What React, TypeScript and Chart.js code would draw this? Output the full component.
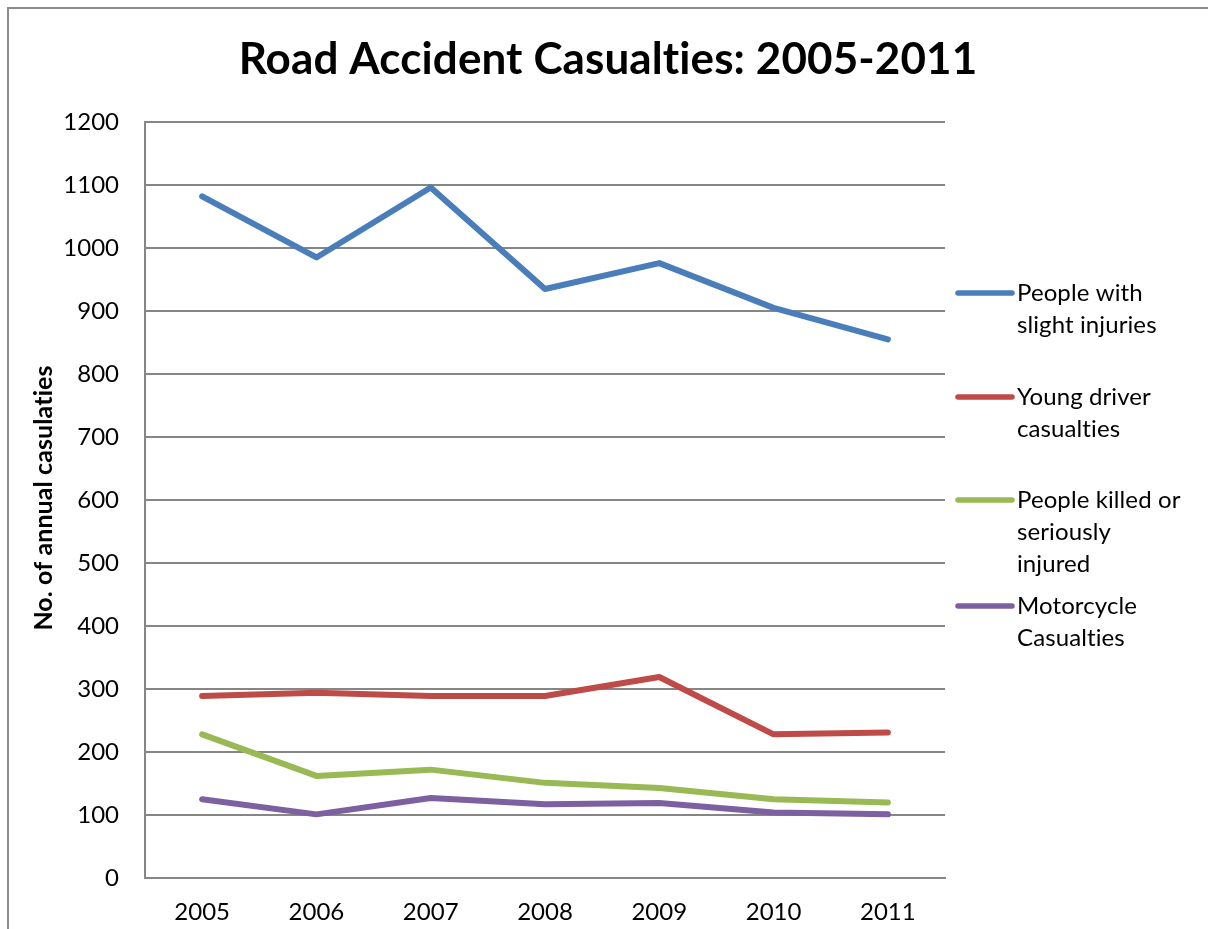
import React, { useEffect, useRef } from "react";
import { Chart, registerables } from "chart.js";

Chart.register(...registerables);

const years = ["2005", "2006", "2007", "2008", "2009", "2010", "2011"];
const slightInjuries = [1082, 985, 1096, 935, 976, 905, 855];
const youngDriver = [289, 294, 289, 289, 319, 228, 231];
const killedSerious = [228, 162, 172, 151, 143, 125, 120];
const motorcycle = [125, 101, 127, 117, 119, 104, 101];

const seriesLabels = [
  ["People with", "slight injuries"],
  ["Young driver", "casualties"],
  ["People killed or", "seriously", "injured"],
  ["Motorcycle", "Casualties"],
];
const seriesColors = ["#4a7ebb", "#be4b48", "#98b954", "#7d60a0"];
const yTicks = [0, 100, 200, 300, 400, 500, 600, 700, 800, 900, 1000, 1100, 1200];

const chartTitle = "Road Accident Casualties: 2005-2011";
const yTitle = "No. of annual casulaties";

const FONT = "Lato, 'Open Sans', sans-serif";

const decorPlugin = {
  id: "decor",
  afterDraw(chart: any) {
    const ctx = chart.ctx;
    ctx.save();
    try { (ctx as any).letterSpacing = "0.1px"; } catch (e) {}
    // frame
    ctx.strokeStyle = "#8c8c8c";
    ctx.lineWidth = 2;
    ctx.beginPath();
    ctx.moveTo(8, 940);
    ctx.lineTo(8, 8);
    ctx.lineTo(1220, 8);
    ctx.stroke();
    // title
    ctx.fillStyle = "#000";
    ctx.font = `bold 44px ${FONT}`;
    ctx.textAlign = "center";
    ctx.textBaseline = "alphabetic";
    ctx.fillText(chartTitle, 608, 74);
    // y title
    ctx.save();
    ctx.translate(44, 498);
    ctx.rotate(-Math.PI / 2);
    ctx.font = `bold 25px ${FONT}`;
    ctx.textAlign = "center";
    ctx.textBaseline = "middle";
    ctx.fillText(yTitle, 0, 0);
    ctx.restore();
    // legend
    const ys = [293, 397, 500, 606];
    chart.data.datasets.forEach((ds: any, i: number) => {
      const y = ys[i];
      ctx.strokeStyle = ds.borderColor;
      ctx.lineWidth = 5.5;
      ctx.lineCap = "round";
      ctx.beginPath();
      ctx.moveTo(958, y);
      ctx.lineTo(1012, y);
      ctx.stroke();
      ctx.fillStyle = "#000";
      ctx.font = `24px ${FONT}`;
      ctx.textAlign = "left";
      ctx.textBaseline = "middle";
      const lines: string[] = seriesLabels[i];
      lines.forEach((t, j) => ctx.fillText(t, 1017, y + j * 32));
    });
    ctx.restore();
  },
};

export default function App() {
  const ref = useRef<HTMLCanvasElement | null>(null);
  useEffect(() => {
    if (!ref.current) return;
    const data = [slightInjuries, youngDriver, killedSerious, motorcycle];
    const chart = new Chart(ref.current, {
      type: "line",
      data: {
        labels: years,
        datasets: data.map((d, i) => ({
          label: seriesLabels[i].join(" "),
          data: d,
          borderColor: seriesColors[i],
          backgroundColor: seriesColors[i],
          borderWidth: 6,
          pointRadius: 0,
          tension: 0,
          borderCapStyle: "round" as const,
          borderJoinStyle: "round" as const,
        })),
      },
      options: {
        responsive: false,
        animation: false,
        layout: { padding: { left: 0, top: 122, right: 263, bottom: 0 } },
        plugins: { legend: { display: false }, title: { display: false }, tooltip: { enabled: false } },
        scales: {
          x: {
            offset: true,
            grid: { display: false, drawTicks: false },
            border: { display: true, color: "#868686", width: 2 },
            ticks: { color: "#000", font: { family: FONT, size: 24 }, padding: 20, maxRotation: 0 },
            afterFit: (s: any) => { s.height = 51; },
          },
          y: {
            min: 0,
            max: 1200,
            afterBuildTicks: (s: any) => { s.ticks = yTicks.map((v) => ({ value: v })); },
            grid: { color: "#868686", lineWidth: 2, drawTicks: false },
            border: { display: true, color: "#868686", width: 2 },
            ticks: {
              color: "#000",
              font: { family: FONT, size: 24 },
              padding: 26,
              callback: (v: any) => String(v),
            },
            afterFit: (s: any) => { s.width = 145; },
          },
        },
      },
      plugins: [decorPlugin],
    });
    return () => chart.destroy();
  }, []);
  return (
    <div style={{ position: "fixed", left: 0, top: 0, width: 1208, height: 929, background: "#fff" }}>
      <canvas ref={ref} width={1208} height={929} style={{ display: "block" }} />
    </div>
  );
}
